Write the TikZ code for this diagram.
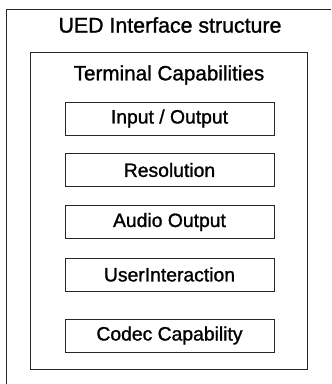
\documentclass[tikz,border=0pt]{standalone}
\usepackage{fontspec}
\setmainfont[FakeBold=1.2,BoldFont={Liberation Sans}]{Liberation Sans}
\begin{document}
\begin{tikzpicture}[x=0.75pt,y=-0.75pt,
  frame/.style={draw=black!85,line width=0.7pt},
  capbox/.style={frame,minimum width=209*0.75pt,minimum height=33*0.75pt,inner sep=0pt,font=\fontsize{14.5}{17}\selectfont},
  heading/.style={inner sep=0pt,font=\fontsize{16}{19}\selectfont}]
\useasboundingbox (0,0) rectangle (331,384);
% outer structure (open on right and bottom)
\draw[frame] (331,9) -- (6.5,9) -- (6.5,384);
\node[heading] (title) at (170,25) {UED Interface structure};
% inner container
\node[frame,minimum width=277*0.75pt,minimum height=317*0.75pt,inner sep=0pt] (term) at (169.3,210.5) {};
\node[heading,font=\fontsize{15.5}{18}\selectfont] (termtitle) at (169,75) {Terminal Capabilities};
\node[capbox] (io) at (169.5,118.5) {Input / Output};
\node[capbox] (res) at (169.5,170) {Resolution};
\node[capbox] (audio) at (169.5,222) {Audio Output};
\node[capbox] (ui) at (169.5,274.5) {UserInteraction};
\node[capbox] (codec) at (169.5,335.5) {Codec Capability};
\end{tikzpicture}
\end{document}
